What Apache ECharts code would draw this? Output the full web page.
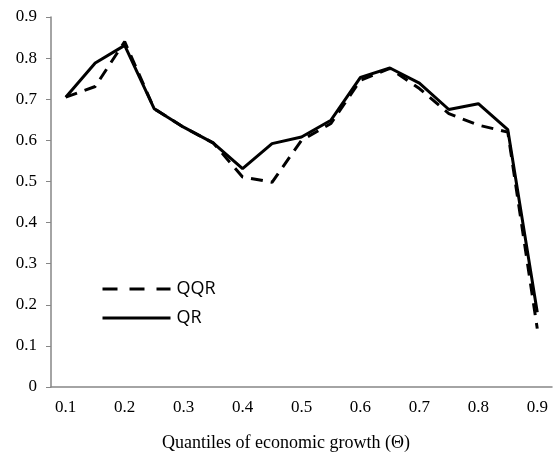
<!DOCTYPE html>
<html><head><meta charset="utf-8">
<script src="https://cdn.jsdelivr.net/npm/echarts@6/dist/echarts.min.js"></script>
<style>html,body{margin:0;padding:0;background:#fff}#c{width:553px;height:457px}</style>
</head><body><div id="c"></div>
<script>
const categories = ['0.1','0.15','0.2','0.25','0.3','0.35','0.4','0.45','0.5','0.55','0.6','0.65','0.7','0.75','0.8','0.85','0.9'];
const qqr = [0.705, 0.731, 0.840, 0.677, 0.632, 0.594, 0.511, 0.498, 0.600, 0.641, 0.746, 0.775, 0.726, 0.665, 0.637, 0.620, 0.142];
const qr  = [0.705, 0.788, 0.831, 0.677, 0.632, 0.594, 0.531, 0.592, 0.608, 0.649, 0.753, 0.776, 0.739, 0.675, 0.689, 0.626, 0.182];
const yTicks = [0, 0.9, 0.1];
const xTitle = 'Quantiles of economic growth (\u0398)';

const chart = echarts.init(document.getElementById('c'));
const axisColor = '#868686';
chart.setOption({
  animation: false,
  backgroundColor: '#fff',
  grid: {left: 51, right: 1, top: 17, bottom: 70, containLabel: false},
  legend: {
    orient: 'vertical', left: 101, top: 279, padding: 0, itemWidth: 68, itemHeight: 20, itemGap: 9,
    itemStyle: {opacity: 0},
    textStyle: {fontFamily: 'Open Sans', fontSize: 18, lineHeight: 20, color: '#000', padding: [0,0,0,1]},
    data: [
      {name: 'QQR', lineStyle: {type: [15, 12], width: 3, color: '#000'}},
      {name: 'QR', lineStyle: {type: 'solid', width: 3, color: '#000'}}
    ]
  },
  xAxis: {
    type: 'category', data: categories, boundaryGap: true,
    name: xTitle, nameLocation: 'middle', nameGap: 47,
    nameTextStyle: {fontFamily: 'Liberation Serif', fontSize: 18, color: '#000', padding: [0, 31, 0, 0]},
    axisLine: {lineStyle: {color: axisColor, width: 1.5}},
    axisTick: {interval: 1, length: 4, lineStyle: {color: axisColor, width: 1}},
    axisLabel: {interval: 1, fontFamily: 'Liberation Serif', fontSize: 17, color: '#000', margin: 12},
    splitLine: {show: false}
  },
  yAxis: {
    type: 'value', min: yTicks[0], max: yTicks[1], interval: yTicks[2],
    axisLine: {show: true, lineStyle: {color: axisColor, width: 1.5}},
    axisTick: {show: true, length: 5, lineStyle: {color: axisColor, width: 1}},
    axisLabel: {fontFamily: 'Liberation Serif', fontSize: 17, color: '#000', margin: 14,
      formatter: v => (Math.round(v*10)/10).toString()},
    splitLine: {show: false}
  },
  series: [
    {name: 'QQR', type: 'line', data: qqr, symbol: 'none', showSymbol: false, z: 2,
     lineStyle: {color: '#000', width: 3, type: [12, 8]}, itemStyle: {color: '#000'}},
    {name: 'QR', type: 'line', data: qr, symbol: 'none', showSymbol: false, z: 3,
     lineStyle: {color: '#000', width: 3, type: 'solid'}, itemStyle: {color: '#000'}}
  ]
});
</script></body></html>
